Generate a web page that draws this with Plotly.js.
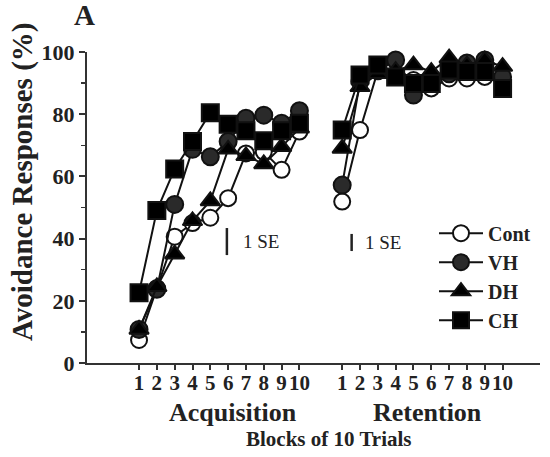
<!DOCTYPE html>
<html>
<head>
<meta charset="utf-8">
<script src="https://cdn.plot.ly/plotly-3.0.1.min.js"></script>
<style>html,body{margin:0;padding:0;background:#fff;}#chart{width:550px;height:457px;}</style>
</head>
<body>
<div id="chart"></div>
<script>
// Block positions on the shared x axis
var acqBlocks = [1,2,3,4,5,6,7,8,9,10];
var retBlocks = [12.4,13.4,14.4,15.4,16.4,17.4,18.4,19.4,20.4,21.4];
var blockLabels = ["1","2","3","4","5","6","7","8","9","10"];

// Avoidance responses (%) — acquisition
var contAcq = [7.4, 24.1, 40.6, 45.0, 46.7, 53.0, 67.4, 67.9, 62.1, 74.4];
var vhAcq   = [10.8, 23.7, 51.0, 68.7, 66.3, 71.2, 78.7, 79.7, 77.1, 81.1];
var dhAcq   = [10.8, 24.5, 35.0, 45.7, 52.1, 68.7, 66.6, 64.0, 69.5, 75.5];
var chAcq   = [22.6, 49.0, 62.4, 71.2, 80.5, 76.8, 74.7, 71.5, 74.7, 77.1];

// Avoidance responses (%) — retention
var contRet = [51.9, 74.9, 94.0, 93.0, 91.0, 88.3, 91.5, 91.5, 92.0, 91.0];
var vhRet   = [57.2, 90.5, 94.0, 97.4, 86.2, 90.0, 93.0, 96.5, 97.4, 92.0];
var dhRet   = [69.0, 88.8, 93.0, 94.0, 95.8, 93.7, 98.0, 95.8, 97.4, 95.3];
var chRet   = [74.9, 92.6, 95.8, 92.0, 89.9, 89.9, 94.2, 93.7, 93.7, 88.3];

// 1 SE bars: [x, low, high]
var seAcq = [5.93, 34.7, 43.4];
var seRet = [12.93, 36.0, 41.5];

var serif = "Liberation Serif, Times New Roman, serif";
var ink = "#222222";

var groups = [
  {name:"Cont", acq:contAcq, ret:contRet, symbol:"circle", size:16, fill:"#ffffff"},
  {name:"VH",   acq:vhAcq,   ret:vhRet,   symbol:"circle", size:17, fill:"#2a2a2a"},
  {name:"DH",   acq:dhAcq,   ret:dhRet,   symbol:"triangle-up", size:17, fill:"#000000"},
  {name:"CH",   acq:chAcq,   ret:chRet,   symbol:"square", size:17, fill:"#000000"}
];

var traces = [];
groups.forEach(function(g){
  var mk = {symbol:g.symbol, size:g.size, color:g.fill, line:{color:"#111", width:2}};
  traces.push({x:acqBlocks, y:g.acq, type:"scatter", mode:"lines+markers", name:g.name,
    line:{color:"#111", width:2}, marker:mk, cliponaxis:false});
  traces.push({x:retBlocks, y:g.ret, type:"scatter", mode:"lines+markers", name:g.name,
    showlegend:false, line:{color:"#111", width:2}, marker:mk, cliponaxis:false});
});

var tickvals = acqBlocks.concat(retBlocks);
var ticktext = blockLabels.concat(blockLabels);

var layout = {
  width:550, height:457,
  margin:{l:87, r:10, t:52, b:94},
  paper_bgcolor:"#fff", plot_bgcolor:"#fff",
  showlegend:true,
  legend:{x:0.766, y:0.48, xanchor:"left", yanchor:"top", bgcolor:"rgba(0,0,0,0)",
    font:{family:serif, size:20, color:ink, weight:"bold"}, itemwidth:44, traceorder:"normal"},
  xaxis:{range:[-1.92, 23.5], showgrid:false, zeroline:false, showline:true, linecolor:"#333", linewidth:2,
    tickmode:"array", tickvals:tickvals, ticktext:ticktext, ticks:"outside", ticklen:5, tickwidth:2, tickcolor:"#333",
    ticklabelstandoff:-5,
    tickfont:{family:serif, size:21, color:ink, weight:"bold"}, fixedrange:true},
  yaxis:{range:[0,100], showgrid:false, zeroline:false, showline:true, linecolor:"#333", linewidth:2,
    tickmode:"array", tickvals:[0,20,40,60,80,100], ticks:"outside", ticklen:6, tickwidth:2, tickcolor:"#333",
    minor:{tickvals:[10,30,50,70,90], ticks:"outside", ticklen:4, tickwidth:1.5, tickcolor:"#333"},
    tickfont:{family:serif, size:22, color:ink, weight:"bold"}, fixedrange:true},
  shapes:[
    {type:"line", xref:"x", yref:"y", x0:seAcq[0], x1:seAcq[0], y0:seAcq[1], y1:seAcq[2], line:{color:ink, width:2.5}},
    {type:"line", xref:"x", yref:"y", x0:seRet[0], x1:seRet[0], y0:seRet[1], y1:seRet[2], line:{color:ink, width:2.5}}
  ],
  annotations:[
    {text:"1 SE", xref:"x", yref:"y", x:seAcq[0]+0.8, y:(seAcq[1]+seAcq[2])/2, xanchor:"left", yanchor:"middle", showarrow:false,
      font:{family:serif, size:19, color:ink}},
    {text:"1 SE", xref:"x", yref:"y", x:seRet[0]+0.65, y:(seRet[1]+seRet[2])/2, xanchor:"left", yanchor:"middle", showarrow:false,
      font:{family:serif, size:19, color:ink}},
    {text:"Acquisition", xref:"paper", yref:"paper", x:(233-87)/453, y:-(412-363)/311, xanchor:"center", yanchor:"middle", showarrow:false,
      font:{family:serif, size:26, color:ink, weight:"bold"}},
    {text:"Retention", xref:"paper", yref:"paper", x:(427-87)/453, y:-(412-363)/311, xanchor:"center", yanchor:"middle", showarrow:false,
      font:{family:serif, size:26, color:ink, weight:"bold"}},
    {text:"Blocks of 10 Trials", xref:"paper", yref:"paper", x:(329-87)/453, y:-(439-363)/311, xanchor:"center", yanchor:"middle", showarrow:false,
      font:{family:serif, size:21, color:ink, weight:"bold"}},
    {text:"Avoidance Responses (%)", xref:"paper", yref:"paper", x:-(87-22)/453, y:(363-182)/311, xanchor:"center", yanchor:"middle", textangle:-90, showarrow:false,
      font:{family:serif, size:29, color:ink, weight:"bold"}},
    {text:"A", xref:"paper", yref:"paper", x:-(87-84)/453, y:(363-15)/311, xanchor:"center", yanchor:"middle", showarrow:false,
      font:{family:serif, size:29, color:ink, weight:"bold"}}
  ]
};

Plotly.newPlot("chart", traces, layout, {displayModeBar:false, staticPlot:true});
</script>
</body>
</html>
